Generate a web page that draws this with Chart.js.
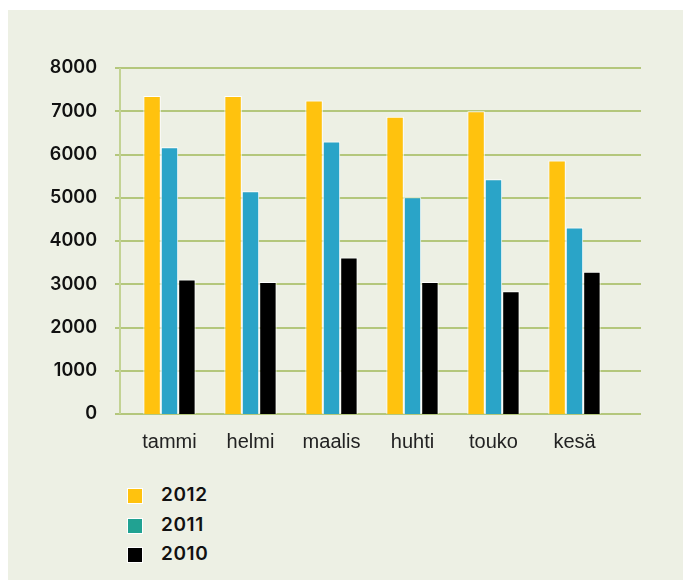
<!DOCTYPE html>
<html>
<head>
<meta charset="utf-8">
<script src="https://cdn.jsdelivr.net/npm/chart.js@4/dist/chart.umd.min.js"></script>
<style>
    html, body { margin: 0; padding: 0; background: #ffffff; }
    #panel {
        position: absolute; left: 8px; top: 10px; width: 675px; height: 570px;
        background: #edf0e4;
    }
    #wrap { position: absolute; left: 0; top: 0; width: 683px; height: 470px; }
    #legend { position: absolute; left: 127px; top: 487px; }
    .item { position: relative; height: 29.5px; }
    .swatch {
        position: absolute; left: 0; top: 1px; width: 14px; height: 14px;
        border: 1px solid #ffffff;
    }
    .label {
        position: absolute; left: 34px; top: -4px;
        font: 600 19px Inter, sans-serif; color: #111111; letter-spacing: 0.6px;
    }
</style>
</head>
<body>
<div id="panel"></div>
<div id="wrap"><canvas id="chart" width="683" height="470"></canvas></div>
<div id="legend"></div>
<script>
    // Chart data
    const months = ['tammi', 'helmi', 'maalis', 'huhti', 'touko', 'kesä'];
    const years = ['2012', '2011', '2010'];
    const values2012 = [7350, 7350, 7250, 6870, 7000, 5860];
    const values2011 = [6170, 5150, 6300, 5010, 5430, 4310];
    const values2010 = [3110, 3050, 3620, 3050, 2840, 3290];
    const yTicks = [0, 1000, 2000, 3000, 4000, 5000, 6000, 7000, 8000];

    const barColors = ['#ffc20e', '#2aa4c8', '#000000'];
    const legendColors = ['#ffc20e', '#21a292', '#000000'];
    const gridColor = '#b4c77c';

    // Grid lines and left axis line, drawn from the y scale
    const gridPlugin = {
        id: 'panelGrid',
        beforeDatasetsDraw(chart) {
            const ctx = chart.ctx;
            const y = chart.scales.y;
            ctx.save();
            ctx.lineWidth = 2;
            ctx.strokeStyle = gridColor;
            yTicks.forEach(v => {
                const py = Math.round(y.getPixelForValue(v));
                ctx.beginPath();
                ctx.moveTo(115, py);
                ctx.lineTo(641, py);
                ctx.stroke();
            });
            ctx.strokeStyle = '#c3d393';
            ctx.beginPath();
            ctx.moveTo(120, y.getPixelForValue(8000));
            ctx.lineTo(120, y.getPixelForValue(0));
            ctx.stroke();
            ctx.restore();
        }
    };

    const ctx = document.getElementById('chart').getContext('2d');
    const chartInstance = new Chart(ctx, {
        type: 'bar',
        data: {
            labels: months,
            datasets: [values2012, values2011, values2010].map((vals, i) => ({
                label: years[i],
                data: vals,
                backgroundColor: barColors[i],
                borderColor: '#ffffff',
                borderWidth: 1,
                borderSkipped: 'bottom',
                categoryPercentage: 0.645,
                barPercentage: 1.0
            }))
        },
        options: {
            responsive: false,
            animation: false,
            layout: {
                padding: { left: 8, right: 68, top: 68, bottom: 0 }
            },
            scales: {
                y: {
                    min: 0,
                    max: 8000,
                    afterFit(scale) { scale.width = 121; },
                    afterBuildTicks(scale) { scale.ticks = yTicks.map(v => ({ value: v })); },
                    grid: { display: false, drawTicks: false },
                    border: { display: false },
                    ticks: {
                        padding: 32,
                        color: '#111111',
                        font: { family: 'Inter', size: 18, weight: '600' },
                        callback: v => String(v)
                    }
                },
                x: {
                    afterFit(scale) { scale.height = 56; },
                    grid: { display: false, drawTicks: false },
                    border: { display: false },
                    ticks: {
                        padding: 16,
                        color: '#222222',
                        font: { family: 'Liberation Sans', size: 20 }
                    }
                }
            },
            plugins: {
                legend: { display: false },
                tooltip: { enabled: false }
            }
        },
        plugins: [gridPlugin]
    });

    // Vertical legend below the chart
    const legendEl = document.getElementById('legend');
    years.forEach((yr, i) => {
        const item = document.createElement('div');
        item.className = 'item';
        item.innerHTML = '<div class="swatch" style="background:' + legendColors[i] + '"></div>' +
            '<div class="label">' + yr + '</div>';
        legendEl.appendChild(item);
    });
</script>
</body>
</html>
